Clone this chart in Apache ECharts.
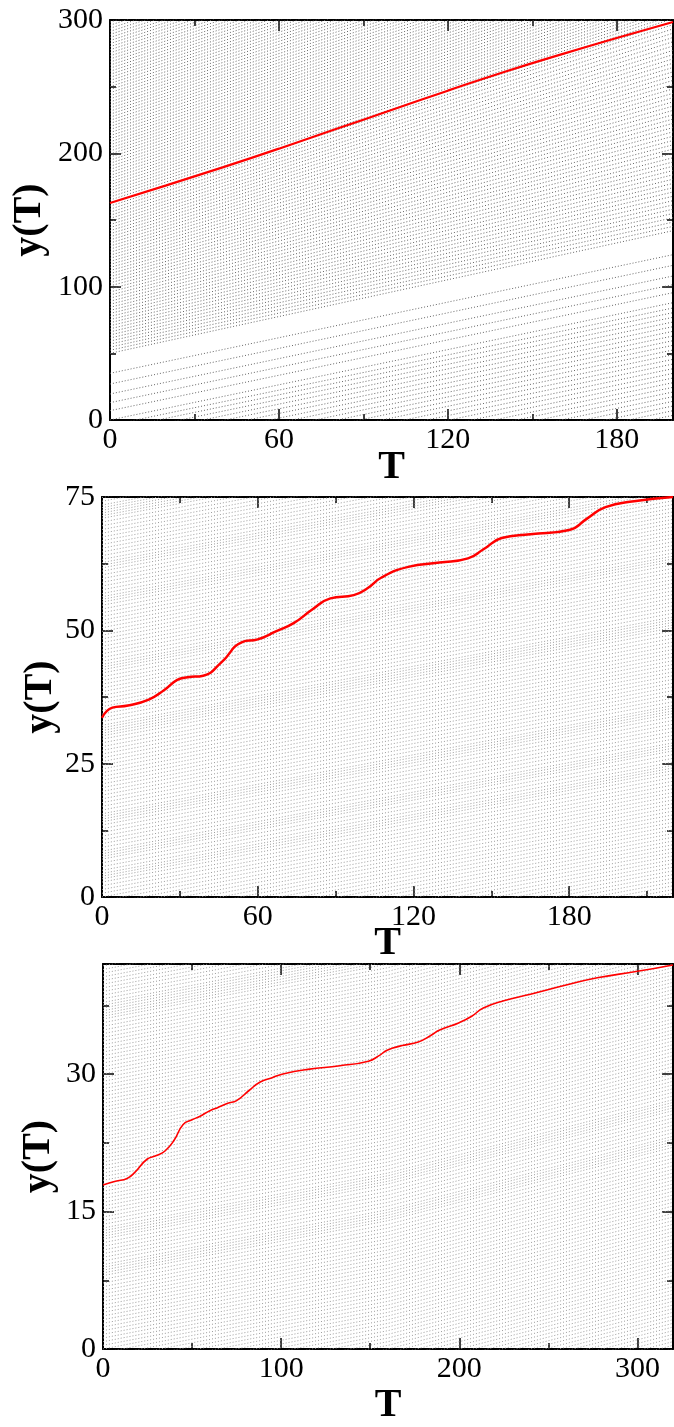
<!DOCTYPE html>
<html><head><meta charset="utf-8">
<script src="https://cdn.jsdelivr.net/npm/echarts@6/dist/echarts.min.js"></script>
<style>html,body{margin:0;padding:0;background:#fff}#c{width:674px;height:1427px}</style>
</head><body><div id="c"></div>
<script>
// ---------- Panel 1 (T 0..200, y 0..300) ----------
const p1Ticks = { xMajor:[0,60,120,180], xMinor:[30,90,150], yMajor:[0,100,200,300], yMinor:[50,150,250] };
const p1Tmax = 200;
// background trajectories: y at T=0 and y at T=200
const p1Start = [-88,-84.5,-81,-77.5,-74,-70.5,-67,-63.5,-60,-56.5,-53,-49.5,-46,-42.5,-39,-35.5,-32,-28.5,-25,-21.5,-18,-14.5,-11,-7.5,-4,0,
  7,13,19.5,27,35,
  50,52.3,54.6,56.9,59.2,61.5,63.8,66.1,68.4,70.7,73,75.3,77.6,79.9,82.2,84.5,86.8,89.1,91.4,93.7,96,98.3,100.6,102.9,105.2,107.5,109.8,112.1,114.4,116.7,119,121.3,123.6,125.9,128.2,130.5,132.8,135.1,137.4,139.7,142,144.3,146.6,148.9,151.2,153.5,155.8,158.1,160.4,162.7,
  165,167.3,169.6,171.9,174.2,176.5,178.8,181.1,183.4,185.7,188,190.3,192.6,194.9,197.2,199.5,201.8,204.1,206.4,208.7,211,213.3,215.6,217.9,220.2,222.5,224.8,227.1,229.4,231.7,234,236.3,238.6,240.9,243.2,245.5,247.8,250.1,252.4,254.7,257,259.3,261.6,263.9,266.2,268.5,270.8,273.1,275.4,277.7,280,282.3,284.6,286.9,289.2,291.5,293.8,296.1,298.4];
const p1End = [0,3.5,7,10.5,14,17.5,21,24.5,28,31.5,35,38.5,42,45.5,49,52.5,56,59.5,63,66.5,70,73.5,77,80.5,84,88,
  95.5,101.5,108,116,124,
  142,145.2,148.4,151.7,154.9,158.1,161.3,164.5,167.8,171,174.2,177.4,180.6,183.9,187.1,190.3,193.5,196.7,200,203.2,206.4,209.6,212.8,216.1,219.3,222.5,225.7,228.9,232.2,235.4,238.6,241.8,245,248.3,251.5,254.7,257.9,261.1,264.4,267.6,270.8,274,277.2,280.5,283.7,286.9,290.1,293.3,296.5,298.8,
  301,303.3,305.6,307.9,310.2,312.5,314.8,317.1,319.4,321.7,324,326.3,328.6,330.9,333.2,335.5,337.8,340.1,342.4,344.7,347,349.3,351.6,353.9,356.2,358.5,360.8,363.1,365.4,367.7,370,372.3,374.6,376.9,379.2,381.5,383.8,386.1,388.4,390.7,393,395.3,397.6,399.9,402.2,404.5,406.8,409.1,411.4,413.7,416,418.3,420.6,422.9,425.2,427.5,429.8,432.1,434.4];
const p1RedT = [0,20,40,60,80,100,120,140,160,180,200];
const p1RedY = [162.7,176,189.5,203.5,218,232.5,247,261,274,286.5,298.5];

// ---------- Panel 2 (T 0..220, y 0..75) ----------
const p2Ticks = { xMajor:[0,60,120,180], xMinor:[30,90,150,210], yMajor:[0,25,50,75], yMinor:[12.5,37.5,62.5] };
const p2Tmax = 220;
const p2Start = [-20.3,-19.6,-18.9,-18.2,-17.5,-16.8,-16.1,-15.4,-14.7,-14.0,-13.3,-12.6,-11.9,-11.2,-10.5,-9.8,-9.1,-8.4,-7.7,-7.0,-6.3,-5.6,-4.9,-4.2,-3.5,-2.8,-2.1,-1.4,-0.7,0,
  0.7,1.4,2.1,2.8,3.4,3.9,4.4,5.0,5.7,6.4,7.1,7.6,8.1,8.6,9.3,10.0,10.7,11.4,12.1,12.8,13.5,14.1,14.6,15.1,15.6,16.3,17.0,17.7,18.4,19.1,19.8,20.5,21.2,21.9,22.6,23.3,24.0,24.7,25.4,26.1,26.8,27.5,28.2,28.9,29.6,30.2,30.7,31.2,31.7,32.2,32.9,33.6,34.3,35.0,35.7,36.4,37.1,37.8,38.5,39.2,39.9,40.6,41.3,42.0,42.6,43.1,43.6,44.2,44.9,45.6,46.3,47.0,47.7,48.4,49.1,49.8,50.5,51.2,51.9,52.6,53.3,54.0,54.7,55.3,55.8,56.3,56.9,57.6,58.3,59.0,59.7,60.4,61.1,61.7,62.2,62.7,63.3,64.0,64.7,65.4,66.1,66.8,67.5,68.2,68.9,69.6,70.3,71.0,71.5,72.0,72.5,73.0,73.5,74.2,74.9];
const p2Rise = 20.3;   // rise of a background trajectory over the full T range
const p2RedT = [0,4,10,18,24,29,33,39,46,54,60,67,74,81,88,97,102,108,118,130,141,147,154,165,180,187,194,205,220];
const p2RedY = [33.6,35.5,35.9,37,38.8,40.7,41.2,41.5,44,47.8,48.3,49.8,51.4,53.9,56,56.6,57.8,60,61.9,62.7,63.5,65.2,67.3,68,68.8,71,73.1,74.2,75];

// ---------- Panel 3 (T 0..320, y 0..42) ----------
const p3Ticks = { xMajor:[0,100,200,300], xMinor:[50,150,250], yMajor:[0,15,30], yMinor:[7.5,22.5,37.5] };
const p3Tmax = 320;
const p3Start = [-14,-13.6,-13.2,-12.8,-12.4,-12,-11.6,-11.2,-10.8,-10.4,-10,-9.6,-9.2,-8.8,-8.4,-8,-7.6,-7.2,-6.8,-6.4,-6,-5.6,-5.2,-4.8,-4.4,-4,-3.6,-3.2,-2.8,-2.4,-2,-1.6,-1.2,-0.8,-0.4,0,
  0.4,0.8,1.2,1.6,2,2.4,2.8,3.2,3.6,4,4.4,4.8,5.2,5.6,6,6.4,6.8,7.2,7.6,8,8.3,8.6,8.9,9.2,9.6,10,10.4,10.8,11.2,11.6,12,12.3,12.6,12.9,13.2,13.6,14,14.4,14.8,15.2,15.6,16,16.4,16.8,17.2,17.6,18,18.4,18.8,19.2,19.6,20,20.4,20.8,21.2,21.6,22,22.4,22.8,23.2,23.6,24,24.4,24.8,25.2,25.6,26,26.4,26.8,27.2,27.6,28,28.4,28.8,29.2,29.6,30,30.4,30.8,31.2,31.6,32,32.4,32.8,33.2,33.6,34,34.4,34.8,35.2,35.6,36,36.3,36.6,36.9,37.2,37.5,37.8,38.2,38.6,39,39.4,39.8,40.2,40.6,41,41.4,41.8];
const p3BgT = [0,160,320];
const p3BgRise = [0,6,14];
const p3RedT = [0,7,13.5,18,24.7,30,34.8,40,45,50,54.5,60,64,70,75,82,88,95,101,115,133,149,155,159.5,168,177,184,189,200,207,213.5,225,240,260,277.5,300,320];
const p3RedY = [17.9,18.3,18.6,19.3,20.7,21.1,21.6,22.8,24.5,25,25.4,26,26.3,26.8,27.1,28.2,29.1,29.6,30,30.5,30.9,31.4,32,32.6,33.1,33.5,34.2,34.8,35.6,36.3,37.2,38,38.7,39.7,40.5,41.2,41.9];

// ---------- layout / styles ----------
const SERIF = '"Liberation Serif","Times New Roman",serif';
const grids = [
  {left:110, top:20, width:563, height:400},
  {left:102, top:497, width:571, height:400},
  {left:103, top:964, width:570, height:399}
];
const xRanges = [[0,200],[0,220],[0,320]];
const yRanges = [[0,300],[0,75],[0,42]];
const ticks = [p1Ticks, p2Ticks, p3Ticks];
const xNameGap = [28, 27, 37];
const yNameGap = [60, 41, 44];

function axisSet(dim, gi, range, majors, minors, title, gap) {
  const pos = dim === 'x' ? ['bottom','top'] : ['left','right'];
  const out = [];
  pos.forEach((p, k) => {
    out.push({
      gridIndex: gi, type:'value', min: range[0], max: range[1], position: p,
      splitLine:{show:false},
      axisLine:{show:true, onZero:false, lineStyle:{color:'#000', width:2}},
      axisTick:{show:true, inside:true, length:11, customValues: majors, lineStyle:{color:'#000', width:1.5}},
      axisLabel: k === 0 ? {show:true, customValues: majors, fontFamily:SERIF, fontSize:30, color:'#000', margin: dim === 'x' ? 5 : 7} : {show:false},
      name: k === 0 ? title : '',
      nameLocation:'middle', nameGap: gap, nameMoveOverlap:false,
      nameTextStyle:{fontFamily:SERIF, fontSize:40, fontWeight:'bold', color:'#000'}
    });
    out.push({
      gridIndex: gi, type:'value', min: range[0], max: range[1], position: p,
      splitLine:{show:false}, axisLine:{show:false, onZero:false}, axisLabel:{show:false},
      axisTick:{show:true, inside:true, length:6, customValues: minors, lineStyle:{color:'#000', width:1.5}}
    });
  });
  return out;
}

const xAxis = [], yAxis = [];
for (let p = 0; p < 3; p++) {
  xAxis.push(...axisSet('x', p, xRanges[p], ticks[p].xMajor, ticks[p].xMinor, 'T', xNameGap[p]));
  yAxis.push(...axisSet('y', p, yRanges[p], ticks[p].yMajor, ticks[p].yMinor, 'y(T)', yNameGap[p]));
}

const series = [];
function bg(p, data, color) {
  series.push({type:'line', xAxisIndex: 4*p, yAxisIndex: 4*p, data, symbol:'none', silent:true,
    animation:false, clip:true, z:2, emphasis:{disabled:true},
    lineStyle:{color, width:1, type:[1,2]}});
}
function red(p, ts, ys, w) {
  series.push({type:'line', xAxisIndex: 4*p, yAxisIndex: 4*p, data: ts.map((t,i)=>[t, ys[i]]),
    symbol:'none', silent:true, animation:false, smooth:0.5, clip:true, z:5, emphasis:{disabled:true},
    lineStyle:{color:'#ff0000', width:w}});
}

// panel 1
for (let i = 0; i < Math.min(p1Start.length, p1End.length); i++) {
  bg(0, [[0, p1Start[i]], [p1Tmax, p1End[i]]], '#666');
}
red(0, p1RedT, p1RedY, 2.2);
// panel 2
p2Start.forEach(s => bg(1, [[0, s], [p2Tmax, s + p2Rise]], '#9a9a9a'));
red(1, p2RedT, p2RedY, 2.5);
// panel 3
p3Start.forEach(s => bg(2, p3BgT.map((t, k) => [t, s + p3BgRise[k]]), '#9a9a9a'));
red(2, p3RedT, p3RedY, 1.6);

const chart = echarts.init(document.getElementById('c'), null, {renderer:'canvas'});
chart.setOption({
  animation:false,
  backgroundColor:'#fff',
  grid: grids.map(g => Object.assign({containLabel:false}, g)),
  xAxis, yAxis, series
});
</script>
</body></html>
